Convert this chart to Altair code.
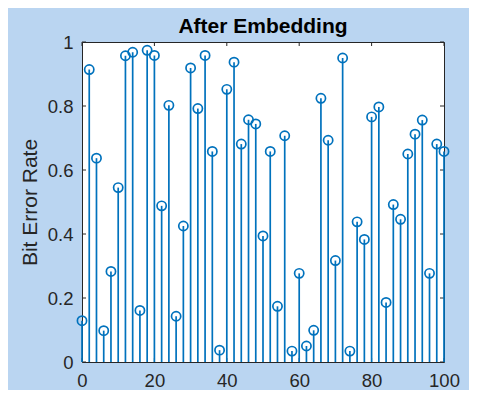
import altair as alt
import pandas as pd

sample_index = [0, 2, 4, 6, 8, 10, 12, 14, 16, 18, 20, 22, 24, 26, 28, 30, 32, 34,
                36, 38, 40, 42, 44, 46, 48, 50, 52, 54, 56, 58, 60, 62, 64, 66, 68,
                70, 72, 74, 76, 78, 80, 82, 84, 86, 88, 90, 92, 94, 96, 98, 100]
bit_error_rate = [0.129, 0.914, 0.637, 0.098, 0.283, 0.545, 0.957, 0.968, 0.161,
                  0.974, 0.958, 0.488, 0.802, 0.143, 0.425, 0.919, 0.792, 0.958,
                  0.658, 0.037, 0.852, 0.937, 0.681, 0.757, 0.744, 0.394, 0.658,
                  0.174, 0.707, 0.034, 0.277, 0.050, 0.099, 0.824, 0.693, 0.317,
                  0.950, 0.034, 0.438, 0.383, 0.766, 0.797, 0.186, 0.492, 0.446,
                  0.650, 0.712, 0.756, 0.277, 0.681, 0.658]
x_ticks = [0, 20, 40, 60, 80, 100]
y_ticks = [0, 0.2, 0.4, 0.6, 0.8, 1]
title_text = ["After Embedding"]

W, H = 362, 320
TICK = 4

df = pd.DataFrame({"x": sample_index, "y": bit_error_rate})
xt = pd.DataFrame({"v": x_ticks})
yt = pd.DataFrame({"v": y_ticks})
tt = pd.DataFrame({"t": title_text})

FONT = "Liberation Sans"
AX = "#262626"
BLUE = "#0072BD"

xscale = alt.Scale(domain=[0, 100], nice=False, zero=False)
yscale = alt.Scale(domain=[0, 1], nice=False)

bottom_axis = alt.Axis(orient="bottom", values=x_ticks, format="d", title=None,
                       grid=False, domain=False, ticks=False, tickSize=0,
                       labelFont=FONT, labelFontSize=18.5, labelColor=AX,
                       labelBaseline="alphabetic", labelPadding=24,
                       labelFlush=False, labelOverlap=False)
left_axis = alt.Axis(orient="left", values=y_ticks, format="~g", title="Bit Error Rate",
                     grid=False, domain=False, ticks=False, tickSize=0,
                     labelFont=FONT, labelFontSize=18.5, labelColor=AX,
                     labelPadding=9, labelFlush=False, labelOverlap=False,
                     titleFont=FONT, titleFontSize=21, titleFontWeight="normal",
                     titleColor=AX, titleAngle=270, titleAlign="center",
                     titleBaseline="alphabetic", titleX=-46, titleY=H / 2)

stems = alt.Chart(df).mark_rule(color=BLUE, strokeWidth=1.7).encode(
    x=alt.X("x:Q", scale=xscale, axis=bottom_axis),
    y=alt.Y("y:Q", scale=yscale, axis=left_axis),
    y2=alt.datum(0),
)

circles = alt.Chart(df).mark_point(shape="circle", filled=False, size=85,
                                   strokeWidth=1.7, color=BLUE, opacity=1).encode(
    x=alt.X("x:Q", scale=xscale),
    y=alt.Y("y:Q", scale=yscale),
)

tick_style = dict(color=AX, strokeWidth=1)
bottom_ticks = alt.Chart(xt).mark_rule(**tick_style).encode(
    x=alt.X("v:Q", scale=xscale), y=alt.value(H), y2=alt.value(H - TICK))
top_ticks = alt.Chart(xt).mark_rule(**tick_style).encode(
    x=alt.X("v:Q", scale=xscale), y=alt.value(0), y2=alt.value(TICK))
left_ticks = alt.Chart(yt).mark_rule(**tick_style).encode(
    y=alt.Y("v:Q", scale=yscale), x=alt.value(0), x2=alt.value(TICK))
right_ticks = alt.Chart(yt).mark_rule(**tick_style).encode(
    y=alt.Y("v:Q", scale=yscale), x=alt.value(W), x2=alt.value(W - TICK))

title_mark = alt.Chart(tt).mark_text(
    font=FONT, fontSize=21, fontWeight="bold", color="black",
    align="center", baseline="alphabetic"
).encode(x=alt.value(W / 2), y=alt.value(-9), text="t:N")

chart = alt.layer(
    bottom_ticks, top_ticks, left_ticks, right_ticks, stems, circles, title_mark
).properties(
    width=W,
    height=H,
    background="#BAD5F1",
    autosize=alt.AutoSizeParams(type="none"),
    padding={"left": 74, "top": 34, "right": 25, "bottom": 28},
).configure_view(
    stroke=AX, strokeWidth=1, fill="white"
)

chart.save("out.html", embed_options={"renderer": "svg", "actions": False})
